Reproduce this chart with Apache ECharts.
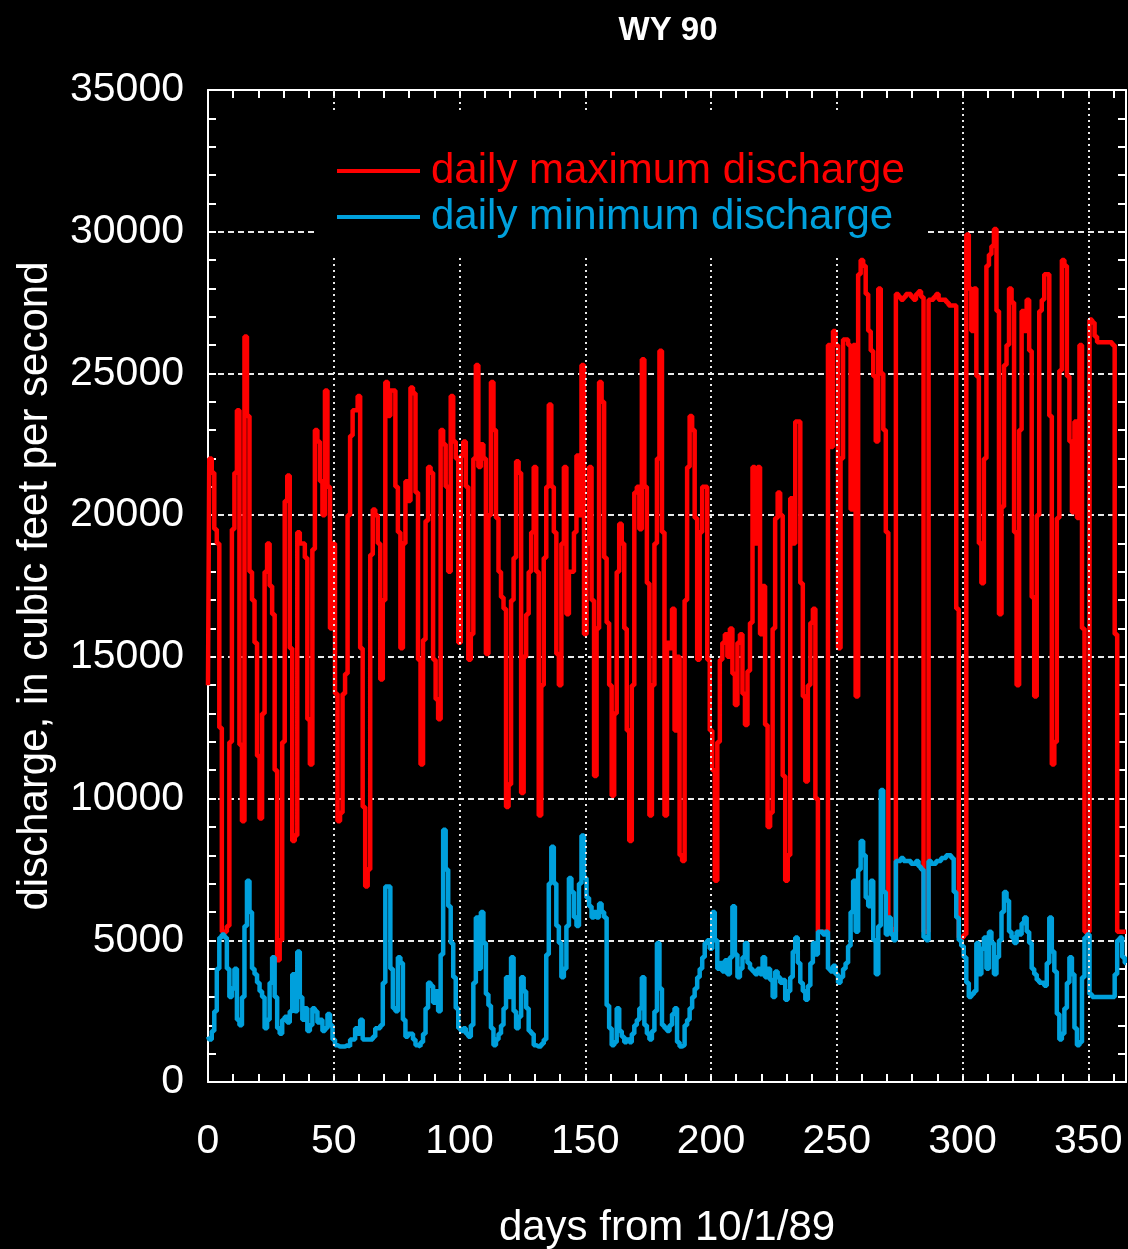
<!DOCTYPE html>
<html>
<head>
<meta charset="utf-8">
<script src="https://cdn.jsdelivr.net/npm/echarts@6/dist/echarts.min.js"></script>
<style>
html,body{margin:0;padding:0;background:#000;}
#chart{width:1128px;height:1249px;}
</style>
</head>
<body>
<div id="chart"></div>
<script>
// Day number (0 = 10/1/89)
const days = Array.from({length: 366}, (_, i) => i);

// Daily maximum discharge, cfs
const maxDischarge = [
14000,22000,21500,19500,19000,12500,5300,5300,5500,12000,
19500,21500,23700,11900,9200,26300,23500,18000,17000,15500,
11500,9300,13000,18000,19000,17500,16500,11000,4300,5000,
12000,20500,21400,15300,8500,8700,19400,19000,19000,18500,
12800,11200,18800,23000,22600,21200,20000,24400,21000,16000,
19000,13700,9200,9500,13700,14400,20000,22800,23700,23700,
24200,15300,9700,6900,7500,18600,20200,20000,19000,14200,
17000,24700,23500,24400,24400,21000,19400,15300,19000,21200,
20500,24500,24300,20800,14900,11200,15600,19800,21700,21500,
14900,13500,12800,23000,22500,21000,18000,24200,22600,22000,
15500,22100,22600,21000,14900,15800,22000,25300,21700,22500,
22000,15100,20000,24700,23000,19900,18000,17100,16700,9700,
10500,17000,18500,21900,21500,10200,15000,16500,18000,19400,
21700,18000,9400,14000,18500,21000,23900,21000,19400,15100,
14000,19000,21700,16500,18000,18000,19400,22100,20000,25300,
15800,19000,21700,17000,10800,16000,24700,24000,18500,16200,
14000,10100,13000,18000,19700,19000,16000,12400,8500,14000,
20800,21000,19500,25500,21000,17600,9400,14000,19000,22000,
25800,19400,9400,15500,15300,16700,12400,15000,8000,7800,
17000,21700,23500,23000,19900,14900,19400,21000,21000,14900,
12400,11000,7100,12000,14900,15500,15800,15000,16000,14400,
13300,15500,15800,13700,12600,14500,16200,21700,19000,21700,
15800,17500,12600,9000,9500,16000,19900,20800,20000,10800,
7100,8000,20600,19000,23300,23300,17600,13600,10600,14000,
16200,16700,10000,5300,5300,5300,5300,26000,22400,26500,
26000,15300,22000,26200,26200,26000,20200,26000,13600,28500,
29000,28800,27800,26500,25800,24900,22600,28000,25000,23000,
19400,5600,5400,5300,27800,27700,27600,27700,27800,27800,
27700,27600,27800,27900,27700,5300,5300,27600,27600,27700,
27800,27600,27600,27600,27500,27400,27400,27400,16700,5100,
5100,5200,29900,28000,26500,28000,24900,19000,17600,22000,
28800,29200,29500,30100,27200,16500,20300,25300,26000,28000,
27500,19400,14000,23000,27200,26500,27600,25800,17100,13600,
20000,27200,27600,28500,28500,23500,11200,12000,19900,25100,
29000,28800,24900,22600,20100,23300,19900,26000,16000,5300,
5300,26900,26800,26300,26100,26100,26100,26100,26100,26100,
26000,15800,5300,5300,5300,5300
];

// Daily minimum discharge, cfs
const minDischarge = [
1600,1500,1800,2500,4000,5100,5200,5100,4000,3000,
3300,4000,2200,2000,3000,5500,7100,6000,4000,3800,
3500,3200,3000,1900,2200,3500,4400,3000,1900,1700,
2200,2300,2100,2500,3800,2500,4600,3000,2200,2600,
1800,2000,2600,2500,2100,2200,1800,1900,2400,2000,
1500,1300,1250,1250,1250,1300,1250,1500,1500,1900,
1700,2200,1500,1500,1500,1500,1600,1900,1900,2000,
3500,6900,6900,4000,2600,2500,4400,4200,2200,1600,
1700,1700,1500,1300,1250,1400,1700,2600,3500,3400,
2800,3200,2500,4500,8900,7500,6200,4900,3700,2600,
1900,1800,1900,1700,1600,2000,3500,5800,4000,6000,
4900,3100,2700,1900,1300,1500,1700,2000,2600,3700,
3000,4400,2500,1900,2300,3700,3200,2600,1800,1700,
1300,1250,1250,1350,1500,4500,7000,8300,7000,5500,
4900,3700,4000,5500,7200,6700,5800,5500,7000,8700,
7200,6500,6200,5800,6000,5800,6300,6000,5800,2700,
1900,1300,1400,2600,1800,1600,1400,1500,1400,1700,
2000,2200,2600,3700,2000,1700,1500,1800,2500,4900,
3300,2000,1900,1800,2000,2400,2600,1400,1250,1300,
2000,2200,2600,3000,3300,3700,4000,4400,4900,5000,
4700,6000,5000,4000,4200,3900,4300,3800,4400,6200,
4500,3700,4000,4400,4900,4200,4000,3900,3800,4000,
3800,4400,3700,4000,3600,3000,3900,3700,3500,3600,
2900,3200,3700,4600,5100,4200,3500,3200,2900,3400,
4200,4900,4500,5300,5300,5200,5300,4000,3900,4100,
3800,3500,3700,4000,4200,4800,6000,7100,5300,7500,
8500,8000,6500,6200,7100,5000,3800,5500,10300,6700,
5200,5800,5200,5000,7800,7800,7900,7800,7800,7800,
7700,7700,7800,7600,7500,5100,5000,7800,7700,7700,
7800,7800,7900,7900,8000,8000,7900,6700,5800,5000,
4800,4400,3500,3000,3100,3200,4900,3800,4700,5100,
4000,5300,4900,3800,4400,5000,6000,6700,6400,5300,
5100,4900,5300,5200,5600,5800,5300,4900,4000,3800,
3600,3500,3500,3400,4200,5800,4600,3900,2400,1500,
1700,2600,3500,4400,3800,1900,1300,1400,3700,5100,
5200,3100,3000,3000,3000,3000,3000,3000,3000,3000,
3000,3800,5000,5100,4400,4200
];

const xTicks = [0, 50, 100, 150, 200, 250, 300, 350];
const yTicks = [0, 5000, 10000, 15000, 20000, 25000, 30000, 35000];
const seriesNames = ['daily maximum discharge', 'daily minimum discharge'];

const FONT = '"Liberation Sans", Arial, Helvetica, sans-serif';
const RED = '#ff0000';
const BLUE = '#00a0dc';
const WHITE = '#ffffff';
const GRIDC = '#e8e8e8';

const chart = echarts.init(document.getElementById('chart'), null, {renderer: 'canvas'});

const frameLine = {show: true, onZero: false, lineStyle: {color: WHITE, width: 2}};
const inTick = {show: true, inside: true, length: 8, lineStyle: {color: WHITE, width: 2}};

chart.setOption({
  backgroundColor: '#000',
  animation: false,
  title: {
    text: 'WY 90',
    left: 663,
    top: 9,
    textAlign: 'center',
    textStyle: {color: WHITE, fontSize: 33, fontWeight: 'bold', fontFamily: FONT}
  },
  legend: {
    orient: 'vertical',
    left: 318,
    top: 113,
    padding: [37, 21, 16, 19],
    backgroundColor: '#000',
    icon: 'rect',
    itemWidth: 83,
    itemHeight: 4,
    itemGap: 4,
    selectedMode: false,
    textStyle: {fontSize: 42, fontFamily: FONT, padding: [0, 0, 0, 6]},
    data: [
      {name: seriesNames[0], textStyle: {color: RED}},
      {name: seriesNames[1], textStyle: {color: BLUE}}
    ],
    z: 10
  },
  grid: {left: 208, top: 90, right: 2, bottom: 167, containLabel: false, outerBoundsMode: 'none'},
  xAxis: [
    {
      type: 'value', position: 'bottom', min: 0, max: 365, interval: 10,
      axisLine: frameLine, axisTick: inTick,
      axisLabel: {
        color: WHITE, fontSize: 41, fontFamily: FONT, margin: 39,
        formatter: v => (xTicks.indexOf(v) >= 0 ? String(v) : '')
      },
      splitLine: {show: false},
      name: 'days from 10/1/89', nameLocation: 'middle', nameGap: 125,
      nameTextStyle: {color: WHITE, fontSize: 42, fontFamily: FONT}
    },
    {
      type: 'value', position: 'top', min: 0, max: 365, interval: 10,
      axisLine: frameLine, axisTick: inTick,
      axisLabel: {show: false}, splitLine: {show: false}
    }
  ],
  yAxis: [
    {
      type: 'value', position: 'left', min: 0, max: 35000, interval: 5000,
      axisLine: frameLine, axisTick: inTick,
      minorTick: {show: true, splitNumber: 5, length: 8, lineStyle: {color: WHITE, width: 2}},
      axisLabel: {color: WHITE, fontSize: 41, fontFamily: FONT, margin: 24,
        formatter: v => (yTicks.indexOf(v) >= 0 ? String(v) : '')},
      splitLine: {show: true, lineStyle: {color: GRIDC, width: 2, type: [6, 4]}},
      name: 'discharge, in cubic feet per second', nameLocation: 'middle', nameGap: 152,
      nameTextStyle: {color: WHITE, fontSize: 42, fontFamily: FONT}
    },
    {
      type: 'value', position: 'right', min: 0, max: 35000, interval: 5000,
      axisLine: frameLine, axisTick: inTick,
      minorTick: {show: true, splitNumber: 5, length: 8, lineStyle: {color: WHITE, width: 2}},
      axisLabel: {show: false}, splitLine: {show: false}
    }
  ],
  series: [
    {
      // vertical grid lines at the labelled x ticks (drawn below the data)
      name: 'xgrid', type: 'line', xAxisIndex: 0, yAxisIndex: 0, z: 1,
      data: [], silent: true, legendHoverLink: false,
      markLine: {
        silent: true, symbol: ['none', 'none'], label: {show: false},
        lineStyle: {color: GRIDC, width: 2, type: [2, 4]},
        data: xTicks.filter(v => v > 0).map(v => ({xAxis: v}))
      }
    },
    {
      name: seriesNames[0], type: 'line', step: 'middle', xAxisIndex: 0, yAxisIndex: 0, z: 2,
      showSymbol: false, symbol: 'none',
      lineStyle: {color: RED, width: 4.5}, itemStyle: {color: RED},
      data: days.map((d, i) => [d, maxDischarge[i]])
    },
    {
      name: seriesNames[1], type: 'line', step: 'middle', xAxisIndex: 0, yAxisIndex: 0, z: 3,
      showSymbol: false, symbol: 'none',
      lineStyle: {color: BLUE, width: 4.5}, itemStyle: {color: BLUE},
      data: days.map((d, i) => [d, minDischarge[i]])
    }
  ]
});
</script>
</body>
</html>
